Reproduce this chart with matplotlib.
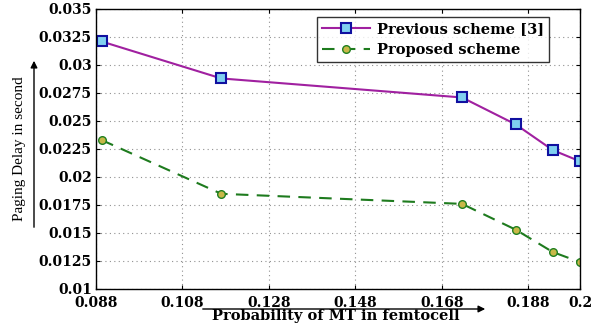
import matplotlib
matplotlib.use("Agg")
import matplotlib.pyplot as plt

# values
prob_mt = [0.0893, 0.117, 0.1727, 0.1851, 0.1937, 0.2]
delay_previous = [0.0321, 0.0288, 0.0271, 0.0247, 0.0224, 0.0214]
delay_proposed = [0.0233, 0.0185, 0.0176, 0.0153, 0.0133, 0.0124]
x_ticks = [0.088, 0.108, 0.128, 0.148, 0.168, 0.188, 0.2]
x_tick_labels = ["0.088", "0.108", "0.128", "0.148", "0.168", "0.188", "0.2"]
y_ticks = [0.01, 0.0125, 0.015, 0.0175, 0.02, 0.0225, 0.025, 0.0275, 0.03, 0.0325, 0.035]
y_tick_labels = ["0.01", "0.0125", "0.015", "0.0175", "0.02", "0.0225", "0.025",
                 "0.0275", "0.03", "0.0325", "0.035"]

wide_serif = "DejaVu Serif"
serif = "Liberation Serif"

fig = plt.figure(figsize=(6.03, 3.26), dpi=100)
ax = fig.add_axes([96 / 603, 1 - 289 / 326, (580 - 96) / 603, (289 - 9) / 326])

ax.plot(prob_mt, delay_previous, color="#A020A0", lw=1.5, marker="s", ms=6.5,
        mfc="#80D0F0", mec="#1010A0", mew=1.5, label="Previous scheme [3]")
ax.plot(prob_mt, delay_proposed, color="#1E7B1E", lw=1.5, ls=(0, (6, 4)), marker="o", ms=5.5,
        mfc="#C8B848", mec="#208020", mew=1.0, label="Proposed scheme")

ax.set_xlim(0.088, 0.2)
ax.set_ylim(0.01, 0.035)
ax.set_xticks(x_ticks)
ax.set_xticklabels(x_tick_labels)
ax.set_yticks(y_ticks)
ax.set_yticklabels(y_tick_labels)
ax.grid(True, color="#909090", ls=(0, (1, 3)), lw=0.8)
ax.tick_params(axis="y", direction="in", right=True, length=3, pad=3)
ax.tick_params(axis="x", direction="in", top=True, length=3, pad=5)
for lbl in ax.get_xticklabels() + ax.get_yticklabels():
    lbl.set_fontfamily(wide_serif)
    lbl.set_fontweight("bold")
    lbl.set_fontsize(10)
for sp in ax.spines.values():
    sp.set_linewidth(1.0)

leg = ax.legend(loc="upper left", bbox_to_anchor=((317 - 96) / 484, 1 - 8 / 280),
                prop={"family": wide_serif, "weight": "bold", "size": 10.5},
                frameon=True, fancybox=False, edgecolor="black", handlelength=3.3,
                borderpad=0.35, labelspacing=0.45, handletextpad=0.45, borderaxespad=0.0)
leg.get_frame().set_linewidth(1.0)

# axis labels with arrows like the original
fig.text(20 / 603, 1 - 149 / 326, "Paging Delay in second", rotation=90, ha="center", va="center",
         fontsize=11, family=serif)
fig.add_artist(matplotlib.patches.FancyArrowPatch(
    (34 / 603, 1 - 230 / 326), (34 / 603, 1 - 58 / 326), transform=fig.transFigure,
    arrowstyle="-|>", mutation_scale=10, color="black", lw=1.0))
fig.text(336 / 603, 1 - 316 / 326, "Probability of MT in femtocell", ha="center", va="center",
         fontsize=10.5, family=wide_serif, fontweight="bold")
fig.add_artist(matplotlib.patches.FancyArrowPatch(
    (200 / 603, 1 - 309 / 326), (488 / 603, 1 - 309 / 326), transform=fig.transFigure,
    arrowstyle="-|>", mutation_scale=10, color="black", lw=1.0))

fig.savefig("out.png", dpi=100)
